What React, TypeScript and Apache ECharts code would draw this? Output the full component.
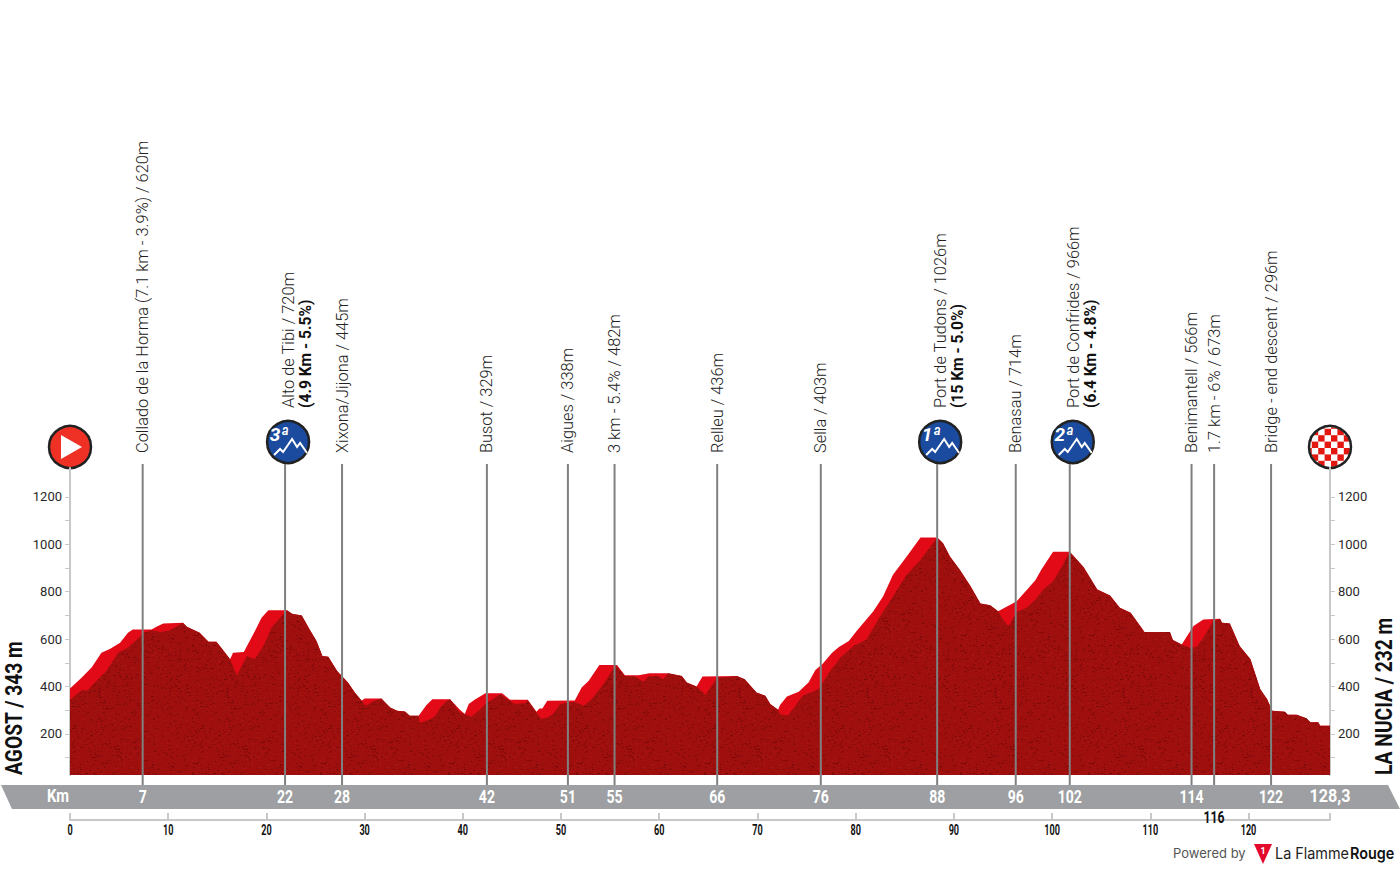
import React, { useEffect, useRef } from "react";
import * as echarts from "echarts";

// Profile outlines as [km, metres]
const highlightProfile: [number, number][] = [
  [0,392],[1.2,438],[2.2,480],[3.2,543],[4.1,560],[5.1,585],[5.9,627],[6.4,641],[8.3,641],[8.8,652],[9.5,666],[11.5,669],[11.9,652],[13.2,627],[14.1,589],[14.9,589],[15.4,564],[16.3,515],[16.6,543],[17.7,546],[19,648],[19.5,690],[20.2,722],[22.1,722],[22.6,707],[23.6,700],[24.4,641],[25.1,592],[25.7,529],[26.3,526],[27.2,466],[28.3,417],[29,375],[29.7,340],[30,350],[31.7,350],[32.6,312],[33.3,298],[34.1,295],[34.6,277],[35.5,277],[36.3,322],[36.9,347],[38.7,347],[39.7,302],
  [40.2,284],[40.6,326],[41.2,344],[42.3,372],[44,372],[44.8,344],[46.6,344],[47.5,294],[47.8,308],[48.1,308],[48.6,340],[51.4,341],[52.1,396],[52.8,424],[53.9,491],[55.7,491],[56.5,448],[57.9,448],[59,456],[60.9,456],[62.3,445],[62.8,417],[63.8,400],[64.4,442],[67.9,445],[68.7,431],[69.9,375],[70.8,361],[71.3,326],[72.1,302],[72.3,322],[73,358],[74.2,378],[75.2,417],[75.9,470],[76.6,494],[77.6,543],[78.3,567],[79.3,592],[80.1,634],[81.8,718],[82.8,781],[83.8,872],[85.2,949],[86.6,1029],
  [88.3,1029],[88.9,1005],[89.6,949],[90.6,893],[91.7,823],[92.7,750],[93.7,743],[94.5,718],[94.7,722],[96.4,760],[97.4,806],[98.3,848],[98.9,893],[100.1,969],[101.8,969],[103.2,904],[104.6,809],[105.9,784],[106.9,732],[108,711],[109.1,648],[109.4,630],[112,630],[112.3,596],[113.2,578],[114.4,655],[115.4,683],[117.1,686],[117.3,669],[118.1,666],[119.1,571],[120.2,515],[121.2,389],[121.9,347],[122.4,298],[123.7,294],[124,281],[124.9,281],[125.9,266],[126.3,249],[127.1,249],[127.3,235],[128.3,235],
];
const darkProfile: [number, number][] = [
  [0,343],[0.5,361],[1.2,385],[1.8,385],[2.7,424],[3.7,466],[4.9,543],[5.9,564],[7,606],[7.5,627],[8.3,638],[9.2,630],[10.2,638],[11.2,662],[11.5,669],[11.9,652],[13.2,627],[14.1,589],[14.9,589],[15.4,564],[16.3,515],[17,448],[18,529],[18.8,515],[19.7,571],[20.5,648],[21.4,690],[22.1,722],[22.6,707],[23.6,700],[24.4,641],[25.1,592],[25.7,529],[26.3,526],[27.2,466],[28.3,417],[29,375],[29.7,340],[30.1,319],[31,340],[31.7,350],[32.6,312],[33.3,298],[34.1,295],[34.6,277],[35.5,277],[35.6,246],[36.7,263],[37.2,277],[37.7,312],[38.4,340],[38.7,347],[39.7,291],
  [40.9,273],[41.4,291],[42.3,326],[43.8,368],[44.8,340],[45.3,326],[46.4,330],[46.6,344],[47.5,291],[48,263],[48.6,270],[49.2,284],[49.9,326],[51.4,336],[52.3,319],[53.1,347],[54.3,410],[55.5,487],[55.7,485],[56.5,445],[57.5,442],[58.4,420],[58.9,442],[59.9,445],[60.4,431],[60.9,456],[62.3,445],[62.8,417],[63.8,400],[64.7,364],[65.9,438],[66.5,438],[67.9,445],[68.7,431],[69.9,375],[70.8,361],[71.3,326],[72.1,302],[72.3,284],[73.1,277],[73.8,316],[74.6,361],[76.2,389],[77.4,466],[78.6,529],[79.8,571],[81.1,599],[82.5,697],[83.8,781],[85.2,872],[86.6,935],
  [88.3,1029],[88.9,1005],[89.6,949],[90.6,893],[91.7,823],[92.7,750],[93.7,743],[94.5,718],[95,683],[95.5,658],[95.7,662],[96.4,715],[97.4,732],[98.3,767],[99.1,809],[100.1,844],[101,907],[101.8,969],[103.2,904],[104.6,809],[105.9,784],[106.9,732],[108,711],[109.1,648],[109.4,630],[112,630],[112.3,596],[113.2,578],[114,564],[114.7,567],[115.4,606],[116.4,676],[117.1,686],[117.3,669],[118.1,666],[119.1,571],[120.2,515],[121.2,389],[121.9,347],[122.4,298],[123.7,294],[124,281],[124.9,281],[125.9,266],[126.3,249],[127.1,249],[127.3,235],[128.3,235],
];

// Waypoints: position, strip label, place name, climb detail
const waypointKm = [7.4, 21.9, 27.7, 42.45, 50.7, 55.45, 65.9, 76.45, 88.3, 96.3, 101.8, 114.2, 116.5, 122.3];
const waypointTick = ["7", "22", "28", "42", "51", "55", "66", "76", "88", "96", "102", "114", "116", "122"];
const waypointName = [
  "Collado de la Horma (7.1 km - 3.9%) / 620m",
  "Alto de Tibi / 720m",
  "Xixona/Jijona / 445m",
  "Busot / 329m",
  "Aigues / 338m",
  "3 km - 5.4% / 482m",
  "Relleu / 436m",
  "Sella / 403m",
  "Port de Tudons / 1026m",
  "Benasau / 714m",
  "Port de Confrides / 966m",
  "Benimantell / 566m",
  "1.7 km - 6% / 673m",
  "Bridge - end descent / 296m",
];
const waypointDetail = ["", "(4.9 Km - 5.5%)", "", "", "", "", "", "", "(15 Km - 5.0%)", "", "(6.4 Km - 4.8%)", "", "", ""];
const climbs = [
  { km: 21.9, cat: "3ª" },
  { km: 88.3, cat: "1ª" },
  { km: 101.8, cat: "2ª" },
];
const scaleKm = [0, 10, 20, 30, 40, 50, 60, 70, 80, 90, 100, 110, 120];
const totalKm = 128.3;
const totalKmLabel = "128,3";
const startLabel = "AGOST / 343 m";
const finishLabel = "LA NUCIA / 232 m";
const elevationLabels = [200, 400, 600, 800, 1000, 1200];
const elevationTicks = [100, 200, 300, 400, 500, 600, 700, 800, 900, 1000, 1100, 1200];

const LEFT = 70;
const RIGHT_X = 1330;
const BOTTOM_Y = 775;
const kmX = (km: number) => LEFT + (km * (RIGHT_X - LEFT)) / totalKm;

function makeTexture(): HTMLCanvasElement {
  const size = 128;
  const c = document.createElement("canvas");
  c.width = size;
  c.height = size;
  const ctx = c.getContext("2d")!;
  ctx.fillStyle = "#9e0f0e";
  ctx.fillRect(0, 0, size, size);
  let s = 0xace1;
  const next = () => {
    for (let i = 0; i < 7; i++) {
      const bit = ((s >> 0) ^ (s >> 2) ^ (s >> 3) ^ (s >> 5)) & 1;
      s = (s >> 1) | (bit << 15);
    }
    return s;
  };
  for (let i = 0; i < 1500; i++) {
    const x = next() % size;
    const y = next() % size;
    ctx.fillStyle = next() % 3 === 0 ? "rgba(175,25,22,0.55)" : "rgba(110,8,8,0.55)";
    ctx.fillRect(x, y, 1 + (next() % 2), 1);
  }
  return c;
}

function climbIcon(km: number, cat: string) {
  const cx = kmX(km) + 3;
  const cy = 442;
  const mountain = [[-14, 13], [-8, 7], [-5, 10], [4, -3], [9, 5], [12, 1], [19, 11]];
  return {
    type: "group",
    x: cx,
    y: cy,
    z: 20,
    children: [
      { type: "circle", shape: { cx: 0, cy: 0, r: 21 }, style: { fill: "#1a4b9f", stroke: "#222222", lineWidth: 2.5 } },
      { type: "polyline", shape: { points: mountain }, style: { fill: "none", stroke: "#ffffff", lineWidth: 2 } },
      { type: "text", x: -9, y: -8, style: { text: cat, x: 0, y: 0, align: "center", verticalAlign: "middle", fill: "#ffffff", font: "italic bold 19px Roboto" } },
    ],
  };
}

function finishIcon() {
  const r = 20;
  const cell = 6.4;
  const squares: any[] = [];
  for (let i = -4; i < 4; i++) {
    for (let j = -4; j < 4; j++) {
      const far = Math.hypot(Math.max(Math.abs(i), Math.abs(i + 1)), Math.max(Math.abs(j), Math.abs(j + 1))) * cell;
      if ((i + j + 8) % 2 === 0 && far < 29) {
        squares.push({ type: "rect", shape: { x: i * cell + 1, y: j * cell + 1, width: cell, height: cell }, style: { fill: "#e3170f" } });
      }
    }
  }
  return {
    type: "group",
    x: RIGHT_X,
    y: 447,
    z: 20,
    children: [
      { type: "circle", shape: { cx: 0, cy: 0, r }, style: { fill: "#ffffff" } },
      ...squares,
      { type: "ring", shape: { cx: 0, cy: 0, r: 31, r0: r }, style: { fill: "#ffffff" } },
      { type: "circle", shape: { cx: 0, cy: 0, r: 21 }, style: { fill: "none", stroke: "#222222", lineWidth: 2.5 } },
    ],
  };
}

function renderWaypoint(params: any, api: any) {
  const i = params.dataIndex;
  const x = api.coord([waypointKm[i], 100])[0];
  const detail = waypointDetail[i];
  const textStart = detail ? 408 : 453;
  const children: any[] = [
    { type: "line", shape: { x1: x, y1: 464, x2: x, y2: 785 }, style: { stroke: "#808080", lineWidth: 2 } },
    {
      type: "text", x: detail ? x + 3.5 : x, y: textStart, rotation: Math.PI / 2,
      style: { text: waypointName[i], x: 0, y: 0, align: "left", verticalAlign: "middle", fill: "#222222", font: "300 16.4px Roboto" },
    },
  ];
  if (detail) {
    children.push({
      type: "text", x: x + 21, y: textStart, rotation: Math.PI / 2,
      style: { text: detail, x: 0, y: 0, align: "left", verticalAlign: "middle", fill: "#111111", font: "bold 15.6px Roboto" },
    });
  }
  const below = waypointTick[i] === "116";
  children.push({
    type: "text", x, y: below ? 817 : 797, scaleX: below ? 0.72 : 0.78,
    style: { text: waypointTick[i], x: 0, y: 0, align: "center", verticalAlign: "middle", fill: below ? "#111111" : "#ffffff", font: `bold ${below ? 17 : 18}px Roboto` },
  });
  return { type: "group", children };
}

function renderScaleLabel(params: any, api: any) {
  const x = api.coord([scaleKm[params.dataIndex], 100])[0];
  return {
    type: "text", x, y: 830, scaleX: 0.65,
    style: { text: String(scaleKm[params.dataIndex]), x: 0, y: 0, align: "center", verticalAlign: "middle", fill: "#111111", font: "bold 14px Roboto" },
  };
}

export default function App() {
  const ref = useRef<HTMLDivElement>(null);
  useEffect(() => {
    const chart = echarts.init(ref.current!, undefined, { renderer: "svg" });
    const elevationAxis = (position: string) => ({
      type: "value",
      position,
      min: 27,
      max: 1322,
      splitLine: { show: false },
      axisLine: { show: true, onZero: false, lineStyle: { color: "#c8c8c8", width: 2 } },
      axisTick: { show: true, length: 5, lineStyle: { color: "#c8c8c8", width: 1 }, customValues: elevationTicks },
      axisLabel: { margin: 8, color: "#2a2a2a", fontFamily: "Roboto", fontSize: 13, fontWeight: 400, customValues: elevationLabels, formatter: (v: number) => String(v) },
    });
    chart.setOption({
      animation: false,
      backgroundColor: "#ffffff",
      grid: { left: LEFT, right: 1400 - RIGHT_X, top: 468, bottom: 870 - BOTTOM_Y },
      xAxis: {
        type: "value",
        min: 0,
        max: totalKm,
        interval: 10,
        offset: 45,
        splitLine: { show: false },
        axisLine: { show: true, onZero: false, lineStyle: { color: "#c8c8c8", width: 2 } },
        axisTick: { show: true, inside: true, length: 7, lineStyle: { color: "#c8c8c8", width: 2 } },
        axisLabel: { show: false },
      },
      yAxis: [elevationAxis("left"), elevationAxis("right")],
      series: [
        {
          type: "line",
          data: highlightProfile,
          showSymbol: false,
          silent: true,
          z: 2,
          lineStyle: { width: 0 },
          areaStyle: { color: "#e30a17", opacity: 1, origin: "start" },
        },
        {
          type: "line",
          data: darkProfile,
          showSymbol: false,
          silent: true,
          z: 3,
          lineStyle: { width: 0 },
          areaStyle: { color: { image: makeTexture(), repeat: "repeat" }, opacity: 1, origin: "start" },
        },
        {
          type: "custom",
          data: waypointKm.map((km) => [km, 100]),
          clip: false,
          silent: true,
          z: 5,
          renderItem: renderWaypoint,
        },
        {
          type: "custom",
          data: scaleKm.map((km) => [km, 100]),
          clip: false,
          silent: true,
          z: 5,
          renderItem: renderScaleLabel,
        },
      ],
      graphic: [
        { type: "polygon", z: 0, shape: { points: [[1, 785], [1388, 785], [1400, 809], [12, 809]] }, style: { fill: "#9d9fa2" } },
        { type: "text", z: 6, x: 58, y: 796, scaleX: 0.82, style: { text: "Km", x: 0, y: 0, align: "center", verticalAlign: "middle", fill: "#ffffff", font: "bold 18px Roboto" } },
        { type: "text", z: 6, x: RIGHT_X, y: 796, scaleX: 0.85, style: { text: totalKmLabel, x: 0, y: 0, align: "center", verticalAlign: "middle", fill: "#ffffff", font: "bold 19px Roboto" } },
        { type: "text", z: 6, x: 14, y: 775, rotation: Math.PI / 2, scaleX: 0.82, style: { text: startLabel, x: 0, y: 0, align: "left", verticalAlign: "middle", fill: "#111111", font: "bold 23.5px Roboto" } },
        { type: "text", z: 6, x: 1384, y: 775, rotation: Math.PI / 2, scaleX: 0.82, style: { text: finishLabel, x: 0, y: 0, align: "left", verticalAlign: "middle", fill: "#111111", font: "bold 23.5px Roboto" } },
        {
          type: "group", x: LEFT, y: 447, z: 20,
          children: [
            { type: "circle", shape: { cx: 0, cy: 0, r: 21 }, style: { fill: "#ee3124", stroke: "#222222", lineWidth: 2.5 } },
            { type: "polygon", shape: { points: [[-9, -12], [12, 0], [-9, 12]] }, style: { fill: "#ffffff" } },
          ],
        },
        finishIcon(),
        ...climbs.map((c) => climbIcon(c.km, c.cat)),
        { type: "text", z: 6, x: 1173, y: 853, style: { text: "Powered by", x: 0, y: 0, align: "left", verticalAlign: "middle", fill: "#555555", font: "13px Inter" } },
        { type: "polygon", z: 6, shape: { points: [[1254, 844], [1272, 844], [1263, 864]] }, style: { fill: "#e30a2c" } },
        { type: "text", z: 7, x: 1263, y: 851, style: { text: "1", x: 0, y: 0, align: "center", verticalAlign: "middle", fill: "#ffffff", font: "bold 9px Roboto" } },
        { type: "text", z: 6, x: 1275, y: 853, scaleX: 0.9, style: { text: "La Flamme", x: 0, y: 0, align: "left", verticalAlign: "middle", fill: "#222222", font: "16px Inter" } },
        { type: "text", z: 6, x: 1350, y: 853, scaleX: 0.9, style: { text: "Rouge", x: 0, y: 0, align: "left", verticalAlign: "middle", fill: "#111111", font: "600 16px Inter" } },
      ],
    });
    return () => chart.dispose();
  }, []);
  return <div ref={ref} style={{ position: "absolute", left: 0, top: 0, width: 1400, height: 870 }} />;
}
